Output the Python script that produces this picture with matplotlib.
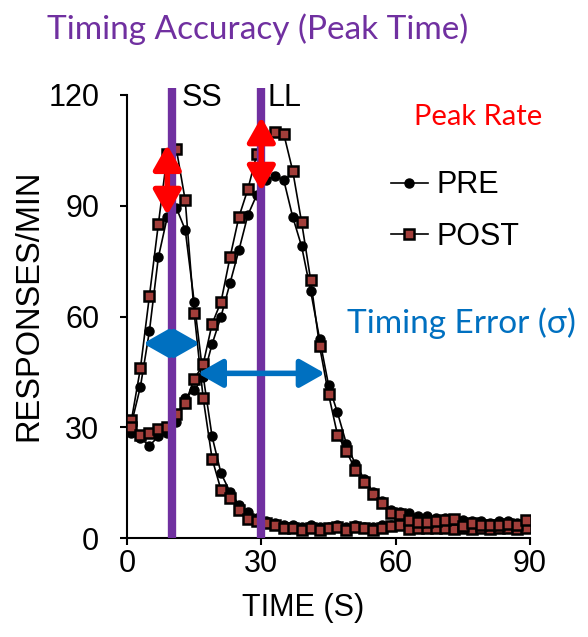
import numpy as np
import matplotlib
matplotlib.use('Agg')
import matplotlib.pyplot as plt
from matplotlib.patches import FancyArrowPatch
from matplotlib.lines import Line2D

# time bins (s)
time_s = list(range(1, 90, 2))

ss_pre = [31, 41, 56, 76, 87, 89.5, 83.5, 64, 44, 27.5,
          17.5, 12.5, 9, 7, 5.5, 4.5, 4, 3.5, 3.5, 3,
          3.5, 3, 3, 3.5, 3, 3.5, 3, 3, 3.5, 3.5,
          3.5, 4, 3.5, 3, 3.5, 3, 3.5, 3, 3.5, 3,
          3, 3.5, 3, 3.5, 3.5]
ss_post = [32, 46, 65.5, 85, 104, 105.5, 91.5, 61, 38, 21.5,
           13, 10.8, 7.6, 5.2, 4.5, 4, 3.5, 2.6, 2.6, 2.3,
           2.6, 2.3, 2.6, 2.9, 2.3, 2.9, 2.6, 2.3, 2.6, 3.3,
           3.6, 2.4, 2.7, 2.7, 2.7, 2.7, 2.4, 2.7, 2.4, 2.7,
           2.4, 2.7, 2.7, 2.4, 2.7]
ll_pre = [28.5, 27, 25, 27.5, 28.5, 31.5, 38, 40, 43.5, 52.5,
          60, 69, 78, 87.5, 93, 97, 98, 97, 87, 79,
          67, 54, 41.5, 34, 25.5, 20, 16, 12.5, 10, 7.5,
          7, 6.9, 6, 6, 5.5, 5.5, 5, 5, 4.5, 4.5,
          4, 4.5, 4.5, 4, 4.5]
ll_post = [30, 28, 28.5, 29.5, 30, 33.5, 36.5, 43, 47, 58,
           64, 76, 87, 94.5, 104, 108, 110, 109.5, 99.5, 85.5,
           70, 52, 39, 28, 23.5, 18.5, 15.3, 12, 9.6, 6.8,
           6.5, 5, 4.4, 4.4, 4.7, 4.9, 5.1, 3.3, 4, 3.6,
           3.5, 3.6, 3.9, 3.6, 4.9]

targets = [10, 30]
target_names = ['SS', 'LL']
peak_arrows = [(9, 87.5, 106.5), (30, 94, 114)]      # x, low, high
sigma_arrows = [(3.6, 16.3, 52.7), (15.8, 44.2, 44.6)]  # left, right, y

PURPLE = '#7030A0'
RED = '#FF0000'
BLUE = '#0070C0'
BROWN = '#A23E3A'

plt.rcParams['font.family'] = ['Liberation Sans', 'DejaVu Sans']

W, H = 588, 637
fig = plt.figure(figsize=(W / 100, H / 100), dpi=100)
ax = fig.add_axes([127 / W, 1 - 538 / H, 403 / W, 443 / H])


def fpos(x, y):
    return x / W, 1 - y / H


pre_kw = dict(color='black', lw=1.2, marker='o', ms=6.5, mfc='black', mec='black', zorder=3)
post_kw = dict(color='black', lw=1.2, marker='s', ms=6.5, mfc=BROWN, mec='black', mew=1.8, zorder=4)

ax.plot(time_s, ss_pre, **pre_kw)
ax.plot(time_s, ll_pre, **pre_kw)
ax.plot(time_s, ss_post, **post_kw)
ax.plot(time_s, ll_post, **post_kw)

for tx in targets:
    ax.plot([tx, tx], [0, 122], color=PURPLE, lw=6, solid_capstyle='butt',
            clip_on=False, zorder=5)

style = '<|-|>,head_length=1.5,head_width=0.85'
for x, lo, hi in peak_arrows:
    ax.add_patch(FancyArrowPatch((x, lo), (x, hi), arrowstyle=style,
                                 mutation_scale=10, color=RED, lw=4, zorder=6,
                                 clip_on=False, shrinkA=0, shrinkB=0))

for x0, x1, y in sigma_arrows:
    ax.add_patch(FancyArrowPatch((x0, y), (x1, y), arrowstyle=style,
                                 mutation_scale=10, color=BLUE, lw=4, zorder=6,
                                 shrinkA=0, shrinkB=0))

ax.set_xlim(0, 90)
ax.set_ylim(0, 120)
ax.set_xticks([0, 30, 60, 90])
ax.set_yticks([0, 30, 60, 90, 120])
ax.spines['top'].set_visible(False)
ax.spines['right'].set_visible(False)
for s in ['left', 'bottom']:
    ax.spines[s].set_linewidth(1.5)
ax.tick_params(direction='out', length=5, width=1.5, labelsize=22)
ax.tick_params(axis='y', pad=15)
ax.tick_params(axis='x', pad=3)
ax.set_xlabel('TIME (S)', fontsize=22)
ax.xaxis.set_label_coords(0.437, -0.125)
ax.set_ylabel('RESPONSES/MIN', fontsize=23.5)
ax.yaxis.set_label_coords(-0.205, 0.526)

handles = [Line2D([], [], **pre_kw), Line2D([], [], **post_kw)]
ax.legend(handles, ['PRE', 'POST'], loc='upper left', bbox_to_anchor=(0.655, 0.83),
          frameon=False, fontsize=22, handlelength=1.2, handletextpad=0.3,
          labelspacing=0.7, borderpad=0, borderaxespad=0)

cal = ['Lato', 'DejaVu Sans']
fig.text(*fpos(47, 39), 'Timing Accuracy (Peak Time)', color=PURPLE, fontsize=24,
         family=cal, va='baseline', ha='left')
fig.text(*fpos(478, 125), 'Peak Rate', color=RED, fontsize=21, family=cal,
         va='baseline', ha='center')
fig.text(*fpos(347, 333), 'Timing Error (\u03c3)', color=BLUE, fontsize=24, family=cal,
         va='baseline', ha='left')
fig.text(*fpos(182, 98), target_names[0], fontsize=22, va='center', ha='left')
fig.text(*fpos(268, 98), target_names[1], fontsize=22, va='center', ha='left')

fig.savefig('out.png', dpi=100)
